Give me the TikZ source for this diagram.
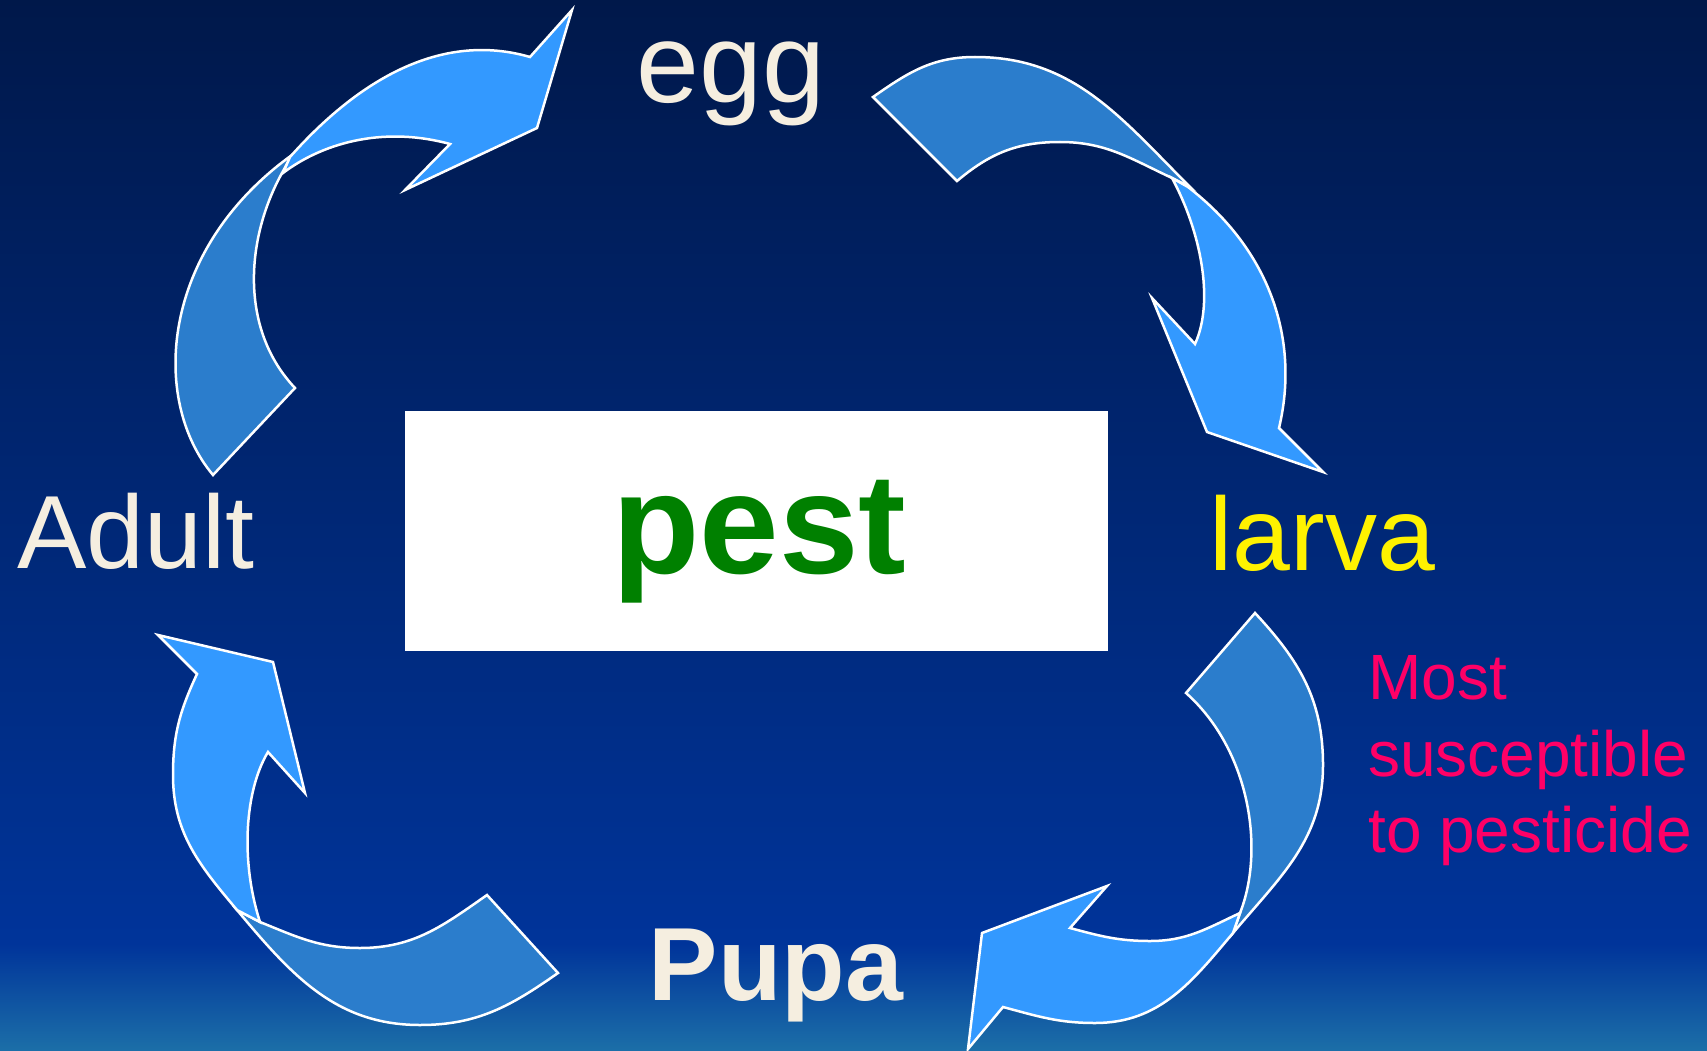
\documentclass[tikz,border=0pt]{standalone}
\usepackage{fontspec}
\setmainfont{Liberation Sans}
\definecolor{bgTop}{RGB}{0,24,74}
\definecolor{bgMid}{RGB}{0,52,154}
\definecolor{bgBot}{RGB}{28,111,168}
\definecolor{arrLight}{RGB}{51,153,255}
\definecolor{arrDark}{RGB}{43,125,204}
\definecolor{cream}{RGB}{245,238,224}
\definecolor{pestGreen}{RGB}{0,128,0}
\definecolor{pinkRed}{RGB}{255,0,102}
\tikzset{
  lightpart/.style={fill=arrLight, draw=white, line width=2.5pt, line join=miter},
  darkpart/.style={fill=arrDark, draw=white, line width=2.5pt, line join=miter},
  stagebig/.style={inner sep=0pt, anchor=base, text=cream},
  notetext/.style={inner sep=0pt, anchor=base west, text=pinkRed, font=\fontsize{64}{75}\selectfont}
}
\begin{document}
\begin{tikzpicture}[x=1pt,y=-1pt]
\useasboundingbox (0,0) rectangle (1707,1051);
\shade[top color=bgTop, bottom color=bgMid] (0,0) rectangle (1707,945);
\shade[top color=bgMid, bottom color=bgBot] (0,944) rectangle (1707,1051);

% arrow 1: Adult -> egg
\draw[darkpart] (213,475) .. controls (150,400) and (160,250) .. (292,155)
  -- (282,173) .. controls (245,240) and (240,330) .. (295,388) -- cycle;
\draw[lightpart] (290,157) .. controls (345,95) and (430,28) .. (530,57)
  -- (572,10) -- (537,128) -- (405,190) -- (450,144) .. controls (380,125) and (320,145) .. (283,173) -- cycle;

% arrow 2: egg -> larva
\draw[darkpart] (873,97) to[out=35,in=180] (975,57) to[out=0,in=135] (1190,187)
  -- (1172,178) to[out=155,in=0] (1060,142) to[out=180,in=40] (957,181) -- cycle;
\draw[lightpart] (1172,178) .. controls (1200,230) and (1215,300) .. (1195,344)
  -- (1152,298) -- (1207,432) -- (1323,472) -- (1279,428) .. controls (1300,340) and (1270,250) .. (1188,187) -- cycle;

% arrow 3: Pupa -> Adult
\draw[darkpart] (558,973) to[out=215,in=0] (420,1025) to[out=180,in=-50] (237,910)
  -- (260,922) to[out=-22,in=180] (360,948) to[out=0,in=215] (487,895) -- cycle;
\draw[lightpart] (260,922) .. controls (240,860) and (245,790) .. (268,752)
  -- (305,793) -- (273,662) -- (158,635) -- (197,674) to[out=245,in=90] (173,775) to[out=-90,in=130] (237,910) -- cycle;

% arrow 4: larva -> Pupa
\draw[darkpart] (1255,613) to[out=-47,in=90] (1323,765) to[out=-90,in=50] (1233,933)
  -- (1240,913) .. controls (1265,850) and (1250,750) .. (1186,693) -- cycle;
\draw[lightpart] (1240,913) to[out=205,in=0] (1150,941) to[out=180,in=-15] (1070,928)
  -- (1107,886) -- (982,933) -- (968,1049) -- (1003,1007) to[out=-15,in=180] (1095,1023) to[out=0,in=230] (1233,933) -- cycle;

% centre box
\node (box) [fill=white, minimum width=703pt, minimum height=240pt, inner sep=0pt] at (756.5,531) {};
\node (pest) [inner sep=0pt, anchor=base, text=pestGreen, font=\fontsize{143}{150}\selectfont\bfseries] at (759.5,573) {pest};

% stages
\node (egg) [stagebig, font=\fontsize{113}{120}\selectfont] at (731,103) {egg};
\node (adult) [stagebig, font=\fontsize{104}{120}\selectfont] at (136,568) {Adult};
\node (larva) [stagebig, text=yellow, font=\fontsize{104}{120}\selectfont] at (1322.5,570) {larva};
\node (pupa) [stagebig, font=\fontsize{104}{120}\selectfont\bfseries] at (776,1000) {Pupa};

% note
\node (m1) [notetext] at (1368,699) {Most};
\node (m2) [notetext] at (1368,776) {susceptible};
\node (m3) [notetext] at (1368,852) {to pesticide};
\end{tikzpicture}
\end{document}
